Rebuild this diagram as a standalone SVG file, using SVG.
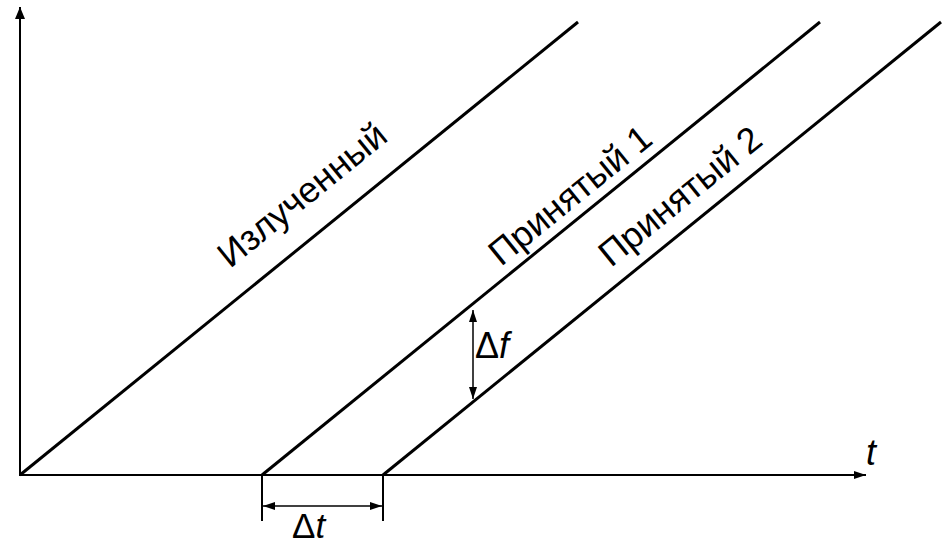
<svg xmlns="http://www.w3.org/2000/svg" width="942" height="546" viewBox="0 0 942 546">
<style>
.axis{stroke:#000;stroke-width:2;fill:none}
.sig{stroke:#000;stroke-width:3;fill:none;stroke-linecap:butt}
.dim{stroke:#000;stroke-width:1.5;fill:none}
.tick{stroke:#000;stroke-width:2;fill:none}
.lbl{font-family:"Liberation Sans",Arial,sans-serif;font-size:36px;fill:#000}
.it{font-style:italic}
</style>
<defs>
<marker id="ah" viewBox="0 0 12 10" refX="12" refY="5" markerWidth="12" markerHeight="10" markerUnits="userSpaceOnUse" orient="auto-start-reverse">
<path d="M0,0 L12,5 L0,10 Z" fill="#000"/>
</marker>
<marker id="ahs" viewBox="0 0 12 8" refX="12" refY="4" markerWidth="12" markerHeight="8" markerUnits="userSpaceOnUse" orient="auto-start-reverse">
<path d="M0,0 L12,4 L0,8 Z" fill="#000"/>
</marker>
</defs>
<g id="axes">
<line class="axis" x1="20" y1="476" x2="20" y2="7" marker-end="url(#ah)"/>
<line class="axis" x1="19" y1="475" x2="866" y2="475" marker-end="url(#ahs)"/>
<text class="lbl it" x="866" y="465">t</text>
</g>
<g id="connectors">
<line class="sig" x1="20" y1="475" x2="578" y2="22"/>
<line class="sig" x1="262" y1="475" x2="820" y2="22"/>
<line class="sig" x1="383" y1="475" x2="941" y2="22"/>
</g>
<g id="emitted">
<text class="lbl" transform="translate(230,269) rotate(-39.07)">Излученный</text>
</g>
<g id="received1">
<text class="lbl" transform="translate(501,267) rotate(-39.07)">Принятый 1</text>
</g>
<g id="received2">
<text class="lbl" transform="translate(611,268) rotate(-39.07)">Принятый 2</text>
</g>
<g id="delta-t">
<line class="tick" x1="262" y1="475" x2="262" y2="521"/>
<line class="tick" x1="383" y1="475" x2="383" y2="521"/>
<line class="dim" x1="263" y1="506" x2="382" y2="506" marker-start="url(#ahs)" marker-end="url(#ahs)"/>
<text class="lbl" x="292" y="538" style="font-size:35px">Δ<tspan class="it">t</tspan></text>
</g>
<g id="delta-f">
<line class="dim" x1="473" y1="310" x2="473" y2="399" marker-start="url(#ahs)" marker-end="url(#ahs)"/>
<text class="lbl" x="475" y="358">Δ<tspan class="it">f</tspan></text>
</g>
</svg>
